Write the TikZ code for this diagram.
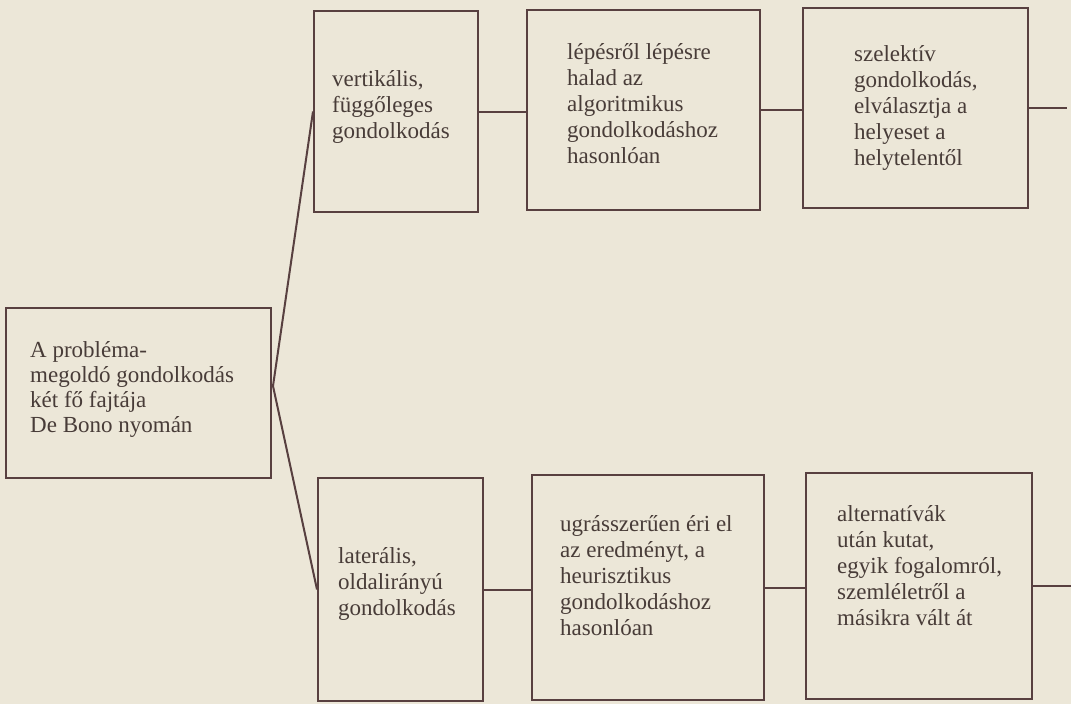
\documentclass[tikz,border=0pt]{standalone}
\usepackage{fontspec}
\setmainfont{Liberation Serif}
\definecolor{paper}{RGB}{236,231,216}
\definecolor{ink}{RGB}{88,64,64}
\definecolor{txt}{RGB}{72,60,56}
\begin{document}
\begin{tikzpicture}[x=1pt,y=-1pt,
  boxnode/.style={draw=ink,line width=2pt,inner sep=0pt,anchor=north west},
  label/.style={anchor=base west,inner sep=0pt,align=left,text=txt,
     font=\fontsize{23}{26}\selectfont},
  conn/.style={draw=ink,line width=2pt}]
\fill[paper] (0,0) rectangle (1071,704);
\useasboundingbox (0,0) rectangle (1071,704);
% boxes
\node[boxnode,minimum width=265pt,minimum height=170pt] (root) at (5,307) {};
\node[boxnode,minimum width=164pt,minimum height=201pt] (b1) at (313,10) {};
\node[boxnode,minimum width=233pt,minimum height=200pt] (b2) at (526,9) {};
\node[boxnode,minimum width=225pt,minimum height=200pt] (b3) at (802,7) {};
\node[boxnode,minimum width=165pt,minimum height=223pt] (b4) at (317,477) {};
\node[boxnode,minimum width=232pt,minimum height=225pt] (b5) at (531,474) {};
\node[boxnode,minimum width=226pt,minimum height=226pt] (b6) at (805,472) {};
% texts (anchored at the baseline of the last line)
\node[label,font=\fontsize{23}{25}\selectfont] (t0) at (30,432) {A probléma-\\megoldó gondolkodás\\két fő fajtája\\De Bono nyomán};
\node[label] (t1) at (332,138) {vertikális,\\függőleges\\gondolkodás};
\node[label] (t2) at (567,163) {lépésről lépésre\\halad az\\algoritmikus\\gondolkodáshoz\\hasonlóan};
\node[label] (t3) at (854,165) {szelektív\\gondolkodás,\\elválasztja a\\helyeset a\\helytelentől};
\node[label] (t4) at (338,615) {laterális,\\oldalirányú\\gondolkodás};
\node[label] (t5) at (560,635) {ugrásszerűen éri el\\az eredményt, a\\heurisztikus\\gondolkodáshoz\\hasonlóan};
\node[label] (t6) at (837,625) {alternatívák\\után kutat,\\egyik fogalomról,\\szemléletről a\\másikra vált át};
% connectors
\coordinate (fan) at (273,386);
\coordinate (endA) at (1067,105);
\coordinate (endB) at (1071,582);
\draw[conn] (fan) -- (b1.west);
\draw[conn] (fan) -- (b4.west);
\draw[conn] (b1.east) -- (b1.east -| b2.west);
\draw[conn] (b2.east) -- (b2.east -| b3.west);
\draw[conn] (b3.east) -- (b3.east -| endA);
\draw[conn] (b4.east) -- (b4.east -| b5.west);
\draw[conn] (b5.east) -- (b5.east -| b6.west);
\draw[conn] (b6.east) -- (b6.east -| endB);
\end{tikzpicture}
\end{document}
